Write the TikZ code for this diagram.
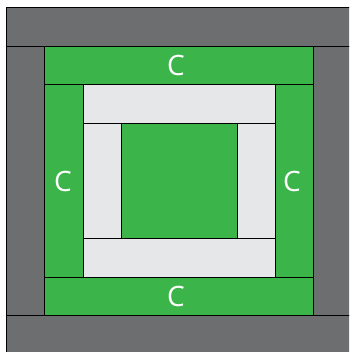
\documentclass[tikz,border=0pt]{standalone}
\usepackage{fontspec}
\setsansfont{Open Sans}
\definecolor{dgray}{HTML}{6D6E70}
\definecolor{qgreen}{HTML}{3BB54A}
\definecolor{lgray}{HTML}{E6E7E8}
\begin{document}
\begin{tikzpicture}[x=1pt,y=-1pt,
  patch/.style={draw=black,line width=0.9pt},
  lbl/.style={text=white,font=\sffamily\fontsize{28}{28}\selectfont,inner sep=0pt}]
\useasboundingbox (0,0) rectangle (349,352);
\begin{scope}
\clip (0,0) rectangle (349,352);
% outer gray
\fill[white] (0,0) rectangle (349,352);
\draw[patch,fill=dgray] (6,7) rectangle (360,46);
\draw[patch,fill=dgray] (6,46) rectangle (44,315);
\draw[patch,fill=dgray] (313,46) rectangle (360,315);
\draw[patch,fill=dgray] (6,315) rectangle (360,360);
% green ring
\draw[patch,fill=qgreen] (44,46) rectangle (313,84);
\draw[patch,fill=qgreen] (44,277) rectangle (313,315);
\draw[patch,fill=qgreen] (44,84) rectangle (83,277);
\draw[patch,fill=qgreen] (275,84) rectangle (313,277);
% light gray ring
\draw[patch,fill=lgray] (83,84) rectangle (275,123);
\draw[patch,fill=lgray] (83,238) rectangle (275,277);
\draw[patch,fill=lgray] (83,123) rectangle (121,238);
\draw[patch,fill=lgray] (237,123) rectangle (275,238);
% center
\draw[patch,fill=qgreen] (121,123) rectangle (237,238);
\end{scope}
\node[lbl] (ct) at (176,66) {C};
\node[lbl] (cb) at (176,296) {C};
\node[lbl] (cl) at (63,181) {C};
\node[lbl] (cr) at (292,181) {C};
\end{tikzpicture}
\end{document}
